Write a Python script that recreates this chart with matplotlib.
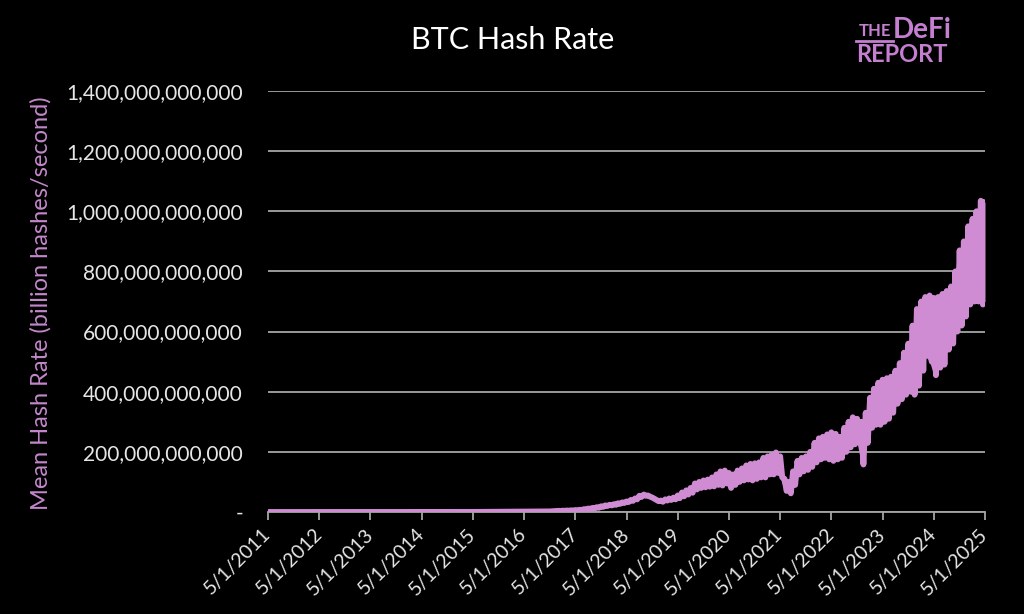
import matplotlib.pyplot as plt
from matplotlib.ticker import FuncFormatter
from matplotlib.lines import Line2D
import numpy as np
import pandas as pd

# Early years (values in EH/s, converted to GH/s below)
early_dates = ['2011-05-01', '2012-05-01', '2013-05-01', '2014-05-01',
               '2015-05-01', '2016-05-01', '2016-11-01']
early_vals = [0.00001, 0.00002, 0.00006, 0.08, 0.35, 1.4, 2.0]

# Monthly highs and lows, Jan 2017 - May 2025 (EH/s)
hash_hi = [
    4, 4.5, 5, 5.5, 6.5, 7.5, 9.5, 11.5, 13.5, 16, 19, 22,          # 2017
    24, 26, 29, 32, 35, 40, 45, 54, 58, 55, 48, 40,                 # 2018
    38, 42, 45, 48, 55, 65, 72, 80, 95, 100, 105, 108,              # 2019
    115, 125, 135, 138, 130, 125, 138, 145, 155, 160, 162, 165,     # 2020
    180, 185, 190, 198, 185, 110, 100, 135, 170, 180, 185, 200,     # 2021
    230, 245, 250, 258, 265, 260, 250, 280, 300, 315, 310, 300,     # 2022
    330, 380, 410, 430, 440, 445, 450, 470, 495, 530, 560, 620,     # 2023
    675, 700, 715, 720, 712, 715, 725, 735, 750, 800, 870, 900,     # 2024
    950, 975, 1000, 1035, 1030,                                     # 2025
]
hash_lo = [
    3.5, 4, 4.5, 5, 5.5, 6.5, 8.5, 10.5, 12, 14, 17, 20,
    22, 24, 27, 30, 33, 37, 42, 50, 54, 51, 44, 36,
    34, 38, 40, 42, 46, 52, 58, 64, 75, 80, 82, 84,
    85, 90, 88, 95, 80, 90, 100, 105, 108, 105, 110, 115,
    115, 125, 125, 130, 115, 70, 62, 90, 125, 135, 140, 150,
    165, 175, 180, 175, 170, 175, 180, 200, 215, 225, 230, 158,
    230, 280, 290, 290, 300, 310, 330, 360, 375, 390, 400, 390,
    420, 470, 520, 500, 455, 480, 490, 540, 560, 600, 620, 650,
    690, 700, 700, 690, 700,
]

tick_years = list(range(2011, 2026))
tick_labels = ['5/1/{}'.format(y) for y in tick_years]
y_ticks = [0, 200e9, 400e9, 600e9, 800e9, 1000e9, 1200e9, 1400e9]

line_color = '#d08cd2'
pink = '#c487cc'
grid_color = '#a6a6a6'
plt.rcParams['font.family'] = ['Lato', 'DejaVu Sans']

# Build the plotted series: high on the 1st, low mid-month
months = pd.date_range('2017-01-01', periods=len(hash_hi), freq='MS')
xs = list(pd.to_datetime(early_dates))
ys = list(early_vals)
for m, hi, lo in zip(months, hash_hi, hash_lo):
    xs.append(m)
    ys.append(hi)
    if m < pd.Timestamp('2025-05-01'):
        xs.append(m + pd.Timedelta(days=15))
        ys.append(lo)
ys = np.array(ys) * 1e9  # EH/s -> billion hashes/second

fig = plt.figure(figsize=(10.24, 6.14), dpi=100, facecolor='black')
ax = fig.add_axes([268 / 1024, 1 - 512 / 614, (985 - 268) / 1024, (512 - 91) / 614])
ax.set_facecolor('black')

# solid band between the monthly lows and highs, then the jagged line on top
ax.fill_between(months, np.array(hash_lo) * 1e9, np.array(hash_hi) * 1e9,
                color=line_color, linewidth=0, zorder=2)
ax.plot(xs, ys, color=line_color, linewidth=4.2, solid_joinstyle='round', zorder=3)

ax.set_xlim(pd.Timestamp('2011-05-01'), pd.Timestamp('2025-05-01'))
ax.set_ylim(0, 1400e9)

tick_dates = pd.to_datetime(['{}-05-01'.format(y) for y in tick_years])
ax.set_xticks(tick_dates)
ax.set_xticklabels(tick_labels, rotation=45, ha='right', va='center',
                   rotation_mode='anchor', fontsize=14, color='#e6e6e6')
ax.set_yticks(y_ticks)
ax.yaxis.set_major_formatter(FuncFormatter(lambda v, p: '-' if v == 0 else '{:,.0f}'.format(v)))
ax.tick_params(axis='y', length=0, pad=18, labelsize=15, labelcolor='#e6e6e6')
ax.tick_params(axis='x', direction='out', length=6, width=1.3, color=grid_color, pad=8)

ax.yaxis.grid(True, color=grid_color, linewidth=1.3, zorder=1)
ax.set_axisbelow(True)
for s in ['left', 'top', 'right']:
    ax.spines[s].set_visible(False)
ax.spines['bottom'].set_color(grid_color)
ax.spines['bottom'].set_linewidth(1.3)

fig.text(0.501, 0.935, 'BTC Hash Rate', ha='center', va='center', fontsize=22, color='white')
fig.text(41 / 1024, 1 - 303 / 614, 'Mean Hash Rate (billion hashes/second)', rotation=90,
         ha='center', va='center', fontsize=17, color=pink)

# Logo
logo = '#c47fd0'
fig.text(875 / 1024, 1 - 31 / 614, 'THE', ha='center', va='center', fontsize=12,
         fontweight='bold', color=logo)
fig.add_artist(Line2D([856 / 1024, 893 / 1024], [1 - 41 / 614, 1 - 41 / 614], color=logo, linewidth=2))
fig.text(922 / 1024, 1 - 30 / 614, 'DeFi', ha='center', va='center', fontsize=20,
         fontweight='bold', color=logo)
fig.text(902 / 1024, 1 - 54 / 614, 'REPORT', ha='center', va='center', fontsize=17,
         fontweight='bold', color=logo)

plt.savefig('out.png', dpi=100, facecolor='black')
